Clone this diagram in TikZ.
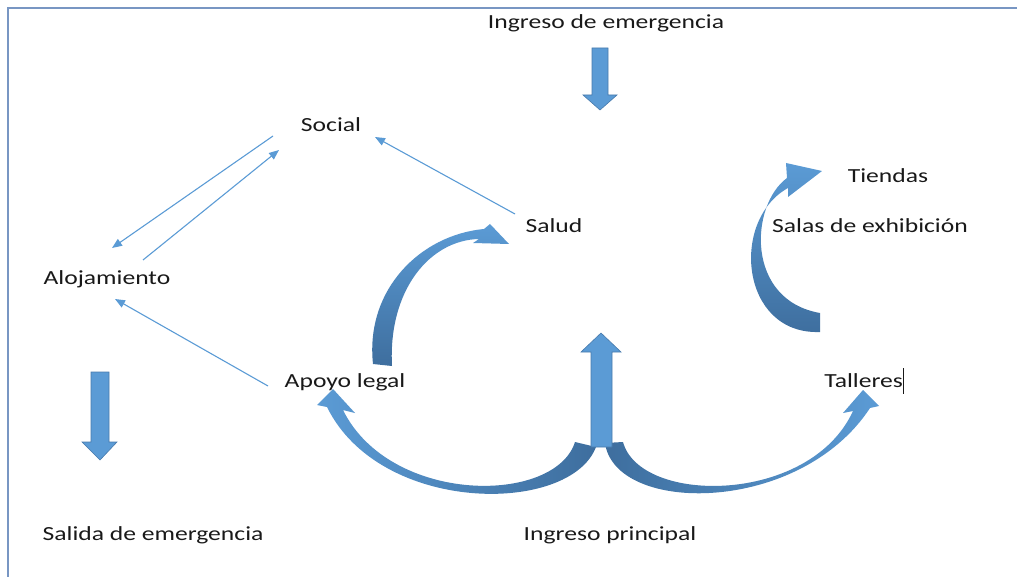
\documentclass[tikz,border=0pt]{standalone}
\usepackage{fontspec}
\setmainfont{Carlito}[FakeStretch=1.28]
\usetikzlibrary{arrows.meta}
\definecolor{FlowBlue}{RGB}{91,155,213}
\definecolor{FlowDark}{RGB}{62,110,158}
\definecolor{FlowEdge}{RGB}{72,122,172}
\definecolor{FrameBlue}{RGB}{120,150,195}
\definecolor{TextInk}{RGB}{25,25,25}

\begin{document}
\begin{tikzpicture}[
    x=1pt, y=-1pt,
    font=\fontsize{20}{24}\selectfont,
    place/.style={
        text=TextInk,
        text height=20pt,
        text depth=5pt,
        inner sep=0pt
    },
    link/.style={
        -{Triangle[length=10pt,width=8pt]},
        draw=FlowBlue,
        line width=1.1pt
    },
    blockarrow/.style={
        fill=FlowBlue,
        draw=FlowEdge,
        line width=0.6pt
    }
]

\useasboundingbox (0,0) rectangle (1017,577);
\draw[FrameBlue, line width=1.5pt] (8,577) -- (8,8) -- (1017,8);

\node[place] (emergin)  at (606,21)  {Ingreso de emergencia};
\node[place] (social)   at (331,124) {Social};
\node[place] (tiendas)  at (888,175) {Tiendas};
\node[place] (salud)    at (554,225) {Salud};
\node[place] (salas)    at (870,225) {Salas de exhibición};
\node[place] (aloj)     at (107,277) {Alojamiento};
\node[place] (apoyo)    at (345,380) {Apoyo legal};
\node[place] (talleres) at (864,380) {Talleres\rule[-6pt]{0.8pt}{26pt}};
\node[place] (emergout) at (153,533) {Salida de emergencia};
\node[place] (mainin)   at (610,533) {Ingreso principal};

% thin connectors
\draw[link] ([shift={(-58,12)}]social.center) -- ([shift={(5,-29)}]aloj.center);
\draw[link] ([shift={(36,-17)}]aloj.center) -- ([shift={(-52,26)}]social.center);
\draw[link] ([shift={(-77,6)}]apoyo.center) -- ([shift={(8,22)}]aloj.center);
\draw[link] ([shift={(-39,-11)}]salud.center) -- ([shift={(44,13)}]social.center);

% straight block arrows
\draw[blockarrow] (592,48) -- (608,48) -- (608,95) -- (617,95)
    -- (600,110) -- (583,95) -- (592,95) -- cycle;
\draw[blockarrow] (91,372) -- (109,372) -- (109,442) -- (117,442)
    -- (100,460) -- (82,442) -- (91,442) -- cycle;

% curved arrows
\shade[top color=FlowBlue, bottom color=FlowDark]
    (373,364) .. controls (365,290) and (420,235) .. (484,229)
    -- (490,224) -- (509,244) -- (473,243) -- (479,239)
    .. controls (430,240) and (388,290) .. (392,366) -- cycle;

\shade[top color=FlowBlue, middle color=FlowBlue, bottom color=FlowDark]
    (820,332) .. controls (740,335) and (730,220) .. (788,188)
    -- (788,197) -- (822,171) -- (786,163) -- (787,178)
    .. controls (750,205) and (745,300) .. (820,313) -- cycle;

\shade[left color=FlowBlue, middle color=FlowBlue, right color=FlowDark]
    (596,447) .. controls (570,515) and (380,515) .. (327,407)
    -- (317,405) -- (333,389) -- (355,413) -- (343,410)
    .. controls (390,505) and (555,505) .. (575,442) -- cycle;

\shade[left color=FlowDark, middle color=FlowBlue, right color=FlowBlue]
    (605,443) .. controls (615,515) and (800,515) .. (870,408)
    -- (879,406) -- (863,390) -- (843,413) -- (853,411)
    .. controls (810,505) and (640,505) .. (623,442) -- cycle;

\draw[blockarrow] (591,447) -- (591,352) -- (581,352) -- (601,333)
    -- (621,352) -- (612,352) -- (612,447) -- cycle;

\end{tikzpicture}
\end{document}
